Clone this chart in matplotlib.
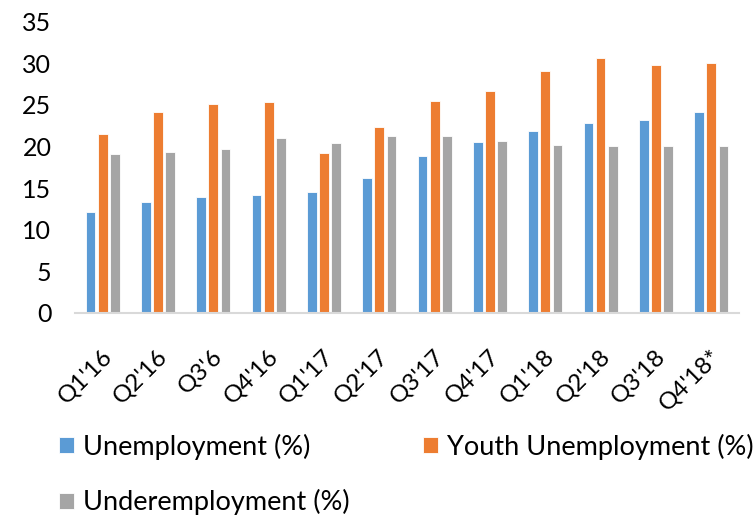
import numpy as np
import matplotlib.pyplot as plt
import matplotlib.transforms as mtransforms

quarters = ["Q1'16", "Q2'16", "Q3'6", "Q4'16", "Q1'17", "Q2'17", "Q3'17", "Q4'17",
            "Q1'18", "Q2'18", "Q3'18", "Q4'18*"]
unemployment = [12.1, 13.3, 13.9, 14.2, 14.5, 16.2, 18.8, 20.5, 21.9, 22.8, 23.2, 24.1]
youth_unemployment = [21.5, 24.1, 25.1, 25.3, 19.2, 22.3, 25.5, 26.7, 29.1, 30.6, 29.8, 30.1]
underemployment = [19.1, 19.3, 19.7, 21.0, 20.4, 21.3, 21.3, 20.6, 20.2, 20.1, 20.1, 20.1]

plt.rcParams['font.family'] = ['Lato', 'DejaVu Sans']

fig = plt.figure(figsize=(7.56, 5.21), dpi=100)
ax = fig.add_axes([0.0992, 0.400, 0.8783, 0.558])

x = np.arange(len(quarters))
w = 0.175
off = 0.222
ax.bar(x - off, unemployment, w, color='#5B9BD5', edgecolor='white', linewidth=0.6,
       label='Unemployment (%)')
ax.bar(x, youth_unemployment, w, color='#ED7D31', edgecolor='white', linewidth=0.6,
       label='Youth Unemployment (%)')
ax.bar(x + off, underemployment, w, color='#A5A5A5', edgecolor='white', linewidth=0.6,
       label='Underemployment (%)')

ax.set_xlim(-0.5, len(quarters) - 0.5)
ax.set_ylim(0, 35)
ax.set_yticks(range(0, 36, 5))
ax.set_xticks(x)
ax.set_xticklabels(quarters, rotation=45, ha='right', va='center', rotation_mode='anchor')
ax.tick_params(axis='both', length=0)
ax.tick_params(axis='y', pad=17, labelsize=18)
ax.tick_params(axis='x', pad=29, labelsize=17.5)
shift = mtransforms.ScaledTranslation(0.06, 0, fig.dpi_scale_trans)
for lab in ax.get_xticklabels():
    lab.set_transform(lab.get_transform() + shift)
for s in ['top', 'right', 'left']:
    ax.spines[s].set_visible(False)
ax.spines['bottom'].set_color('#D9D9D9')
ax.spines['bottom'].set_linewidth(1.5)

handles, labels = ax.get_legend_handles_labels()
order = [0, 2, 1]
fig.legend([handles[i] for i in order], [labels[i] for i in order],
           loc='upper left', bbox_to_anchor=(0.078, 0.168), ncol=2, frameon=False,
           fontsize=19.5, handlelength=0.55, handleheight=0.55, handletextpad=0.35,
           columnspacing=2.7, labelspacing=1.1, borderaxespad=0, borderpad=0)

fig.savefig('out.png', dpi=100)
